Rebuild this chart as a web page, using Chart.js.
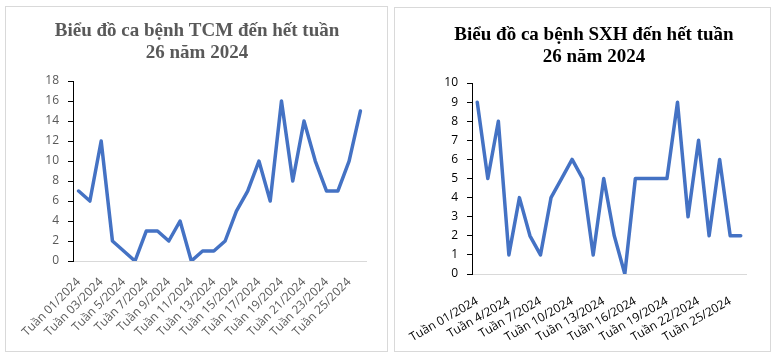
<!DOCTYPE html>
<html>
<head>
<meta charset="utf-8">
<script src="https://cdn.jsdelivr.net/npm/chart.js@4.4.1/dist/chart.umd.min.js"></script>
<style>
  html, body { margin: 0; padding: 0; background: #fff; }
  body { width: 776px; height: 359px; position: relative; overflow: hidden; }
  .box { position: absolute; border: 1px solid #d9d9d9; background: #fff; }
  #boxL { left: 5px; top: 6px; width: 381px; height: 344px; }
  #boxR { left: 394px; top: 7px; width: 375px; height: 343px; }
  canvas { display: block; }
</style>
</head>
<body>
<div class="box" id="boxL"><canvas id="tcm" width="381" height="344"></canvas></div>
<div class="box" id="boxR"><canvas id="sxh" width="375" height="343"></canvas></div>
<script>
// ---- Data ----
const weeks = [
  "Tuần 01/2024", "Tuần 02/2024", "Tuần 03/2024", "Tuần 4/2024", "Tuần 5/2024",
  "Tuần 6/2024", "Tuần 7/2024", "Tuần 8/2024", "Tuần 9/2024", "Tuần 10/2024",
  "Tuần 11/2024", "Tuần 12/2024", "Tuần 13/2024", "Tuần 14/2024", "Tuần 15/2024",
  "Tuần 16/2024", "Tuần 17/2024", "Tuần 18/2024", "Tuần 19/2024", "Tuần 20/2024",
  "Tuần 21/2024", "Tuần 22/2024", "Tuần 23/2024", "Tuần 24/2024", "Tuần 25/2024",
  "Tuần 26/2024"
];
const tcmCases = [7, 6, 12, 2, 1, 0, 3, 3, 2, 4, 0, 1, 1, 2, 5, 7, 10, 6, 16, 8, 14, 10, 7, 7, 10, 15];
const sxhCases = [9, 5, 8, 1, 4, 2, 1, 4, 5, 6, 5, 1, 5, 2, 0, 5, 5, 5, 5, 9, 3, 7, 2, 6, 2, 2];
const tcmTitle = ["Biểu đồ ca bệnh TCM đến hết tuần", "26 năm 2024"];
const sxhTitle = ["Biểu đồ ca bệnh SXH đến hết tuần", "26 năm 2024"];

const LINE_COLOR = "#4472C4";

function makeChart(id, cfg) {
  return new Chart(document.getElementById(id), {
    type: "line",
    data: {
      labels: weeks,
      datasets: [{
        data: cfg.values,
        borderColor: LINE_COLOR,
        backgroundColor: LINE_COLOR,
        borderWidth: 3.5,
        pointRadius: 0,
        pointHoverRadius: 0,
        tension: 0,
        borderJoinStyle: "round",
        borderCapStyle: "round",
        fill: false
      }]
    },
    options: {
      responsive: false,
      animation: false,
      devicePixelRatio: 1,
      layout: { padding: { left: cfg.padL, right: cfg.padR, top: 0, bottom: 0 } },
      plugins: {
        legend: { display: false },
        tooltip: { enabled: false },
        title: {
          display: true,
          text: cfg.title,
          color: cfg.titleColor,
          font: { family: "'Liberation Serif', 'Times New Roman', serif", size: 19, weight: "bold", lineHeight: 1.17 },
          padding: { top: cfg.titleTop, bottom: cfg.titleBottom }
        }
      },
      scales: {
        x: {
          type: "category",
          offset: true,
          grid: { display: false },
          border: { display: true, color: "#d9d9d9", width: 1 },
          ticks: {
            autoSkip: false,
            maxRotation: cfg.rot,
            minRotation: cfg.rot,
            padding: cfg.xPad,
            color: cfg.tickColor,
            font: { family: "'Open Sans', sans-serif", size: 12 },
            callback: function (val, idx) { return idx % cfg.every === 0 ? this.getLabelForValue(val) : ""; }
          },
          afterFit: (s) => { s.height = cfg.xH; }
        },
        y: {
          min: 0,
          max: cfg.max,
          grid: { display: true, drawOnChartArea: false, drawTicks: true, tickLength: 5, color: "#000", lineWidth: 1 },
          border: { display: true, color: "#000", width: 1 },
          ticks: {
            stepSize: cfg.step,
            padding: 9,
            color: cfg.tickColor,
            font: { family: "'Open Sans', sans-serif", size: 12 }
          },
          afterFit: (s) => { s.width = cfg.yW; }
        }
      }
    }
  });
}

makeChart("tcm", {
  values: tcmCases, title: tcmTitle, titleColor: "#595959", tickColor: "#595959",
  padL: 22, padR: 21, titleTop: 13, titleBottom: 16.6, yW: 45, xH: 90,
  rot: 45, every: 2, xPad: 6, max: 18, step: 2
});
makeChart("sxh", {
  values: sxhCases, title: sxhTitle, titleColor: "#000000", tickColor: "#000000",
  padL: 47, padR: 24, titleTop: 16, titleBottom: 14.6, yW: 30, xH: 77,
  rot: 30, every: 3, xPad: 12, max: 10, step: 1
});
</script>
</body>
</html>
